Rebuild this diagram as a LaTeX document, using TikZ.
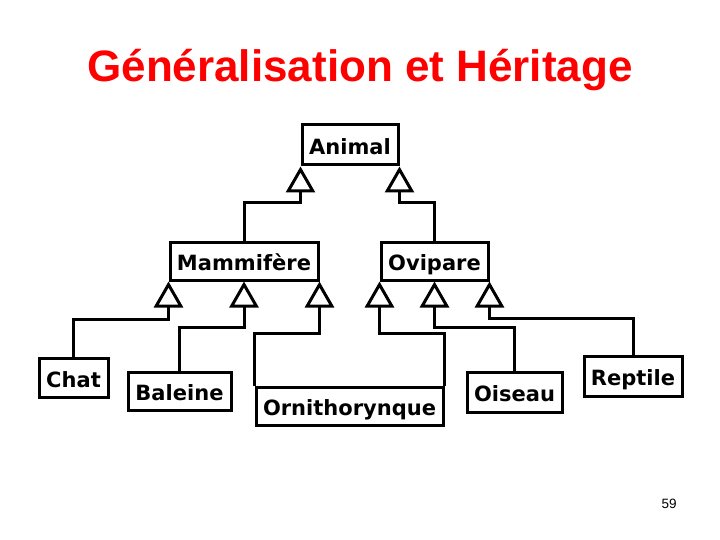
\documentclass[tikz,border=0pt]{standalone}
\usepackage{fontspec}
\setmainfont{Liberation Sans}
\newfontfamily\umlfont{DejaVu Sans}
\usetikzlibrary{arrows.meta}

\begin{document}
\begin{tikzpicture}[x=1pt, y=1pt]
\tikzstyle{classe}=[draw, line width=3pt, inner sep=0pt, minimum height=38pt,
    font=\umlfont\bfseries\fontsize{21}{25}\selectfont, text height=19.5pt, text depth=0pt]
\tikzstyle{herite}=[line width=3pt, -{Triangle[open, length=26pt, width=29pt]}]

\useasboundingbox (0, 0) rectangle (720, -540);

\node[anchor=base, text=red, font=\bfseries\fontsize{44}{50}\selectfont] (titre) at (360, -82) {Généralisation et Héritage};
\node[anchor=base, font=\fontsize{13.5}{16}\selectfont] (page) at (669, -508) {59};

% classes
\node[classe, minimum width=96pt, minimum height=40pt] (animal) at (350, -145) {Animal};
\node[classe, minimum width=148pt] (mammifere) at (244, -261) {Mammifère};
\node[classe, minimum width=107pt] (ovipare) at (434.5, -261) {Ovipare};
\node[classe, minimum width=69pt, minimum height=39pt] (chat) at (73.5, -377.5) {Chat};
\node[classe, minimum width=103pt] (baleine) at (179.5, -391) {Baleine};
\node[classe, minimum width=187pt] (ornitho) at (349.5, -406) {Ornithorynque};
\node[classe, minimum width=95pt, minimum height=40pt] (oiseau) at (514.5, -392) {Oiseau};
\node[classe, minimum width=98pt, minimum height=40pt] (reptile) at (633, -376) {Reptile};

% Animal
\draw[herite] (mammifere.north) |- ([yshift=-36pt]animal.south west) -- (animal.south west);
\draw[herite] (ovipare.north) |- ([yshift=-36pt]animal.south east) -- (animal.south east);

% Mammifere
\draw[herite] (chat.north) |- ([yshift=-38pt]mammifere.south west) -- (mammifere.south west);
\draw[herite] (baleine.north) |- ([yshift=-46pt]mammifere.south) -- (mammifere.south);
\draw[herite] (ornitho.north west) |- ([yshift=-52pt]mammifere.south east) -- (mammifere.south east);

% Ovipare
\draw[herite] (ornitho.north east) |- ([yshift=-52pt]ovipare.south west) -- (ovipare.south west);
\draw[herite] (oiseau.north) |- ([yshift=-46pt]ovipare.south) -- (ovipare.south);
\draw[herite] (reptile.north) |- ([yshift=-37pt]ovipare.south east) -- (ovipare.south east);

\end{tikzpicture}
\end{document}
